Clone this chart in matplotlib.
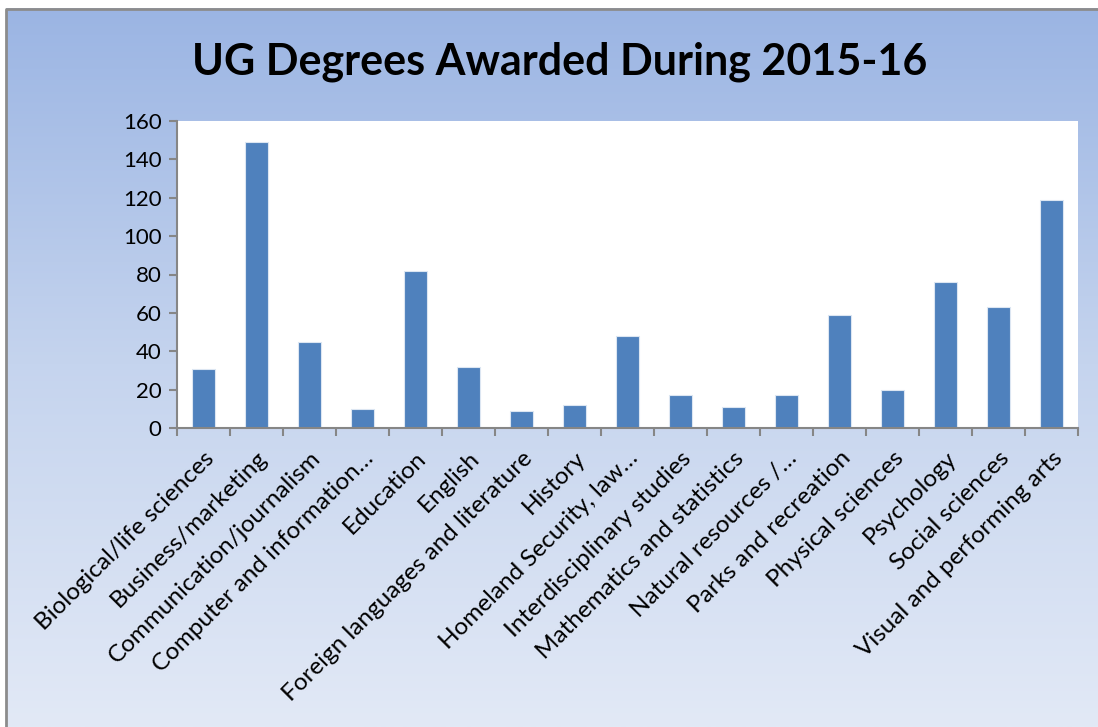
import numpy as np
import matplotlib.pyplot as plt
from matplotlib.colors import LinearSegmentedColormap
from matplotlib.patches import Rectangle

categories = ['Biological/life sciences', 'Business/marketing', 'Communication/journalism',
              'Computer and information…', 'Education', 'English',
              'Foreign languages and literature', 'History', 'Homeland Security, law…',
              'Interdisciplinary studies', 'Mathematics and statistics', 'Natural resources /…',
              'Parks and recreation', 'Physical sciences', 'Psychology', 'Social sciences',
              'Visual and performing arts']
degrees = [31, 149, 45, 10, 82, 32, 9, 12, 48, 17, 11, 17, 59, 20, 76, 63, 119]
y_ticks = [0, 20, 40, 60, 80, 100, 120, 140, 160]

plt.rcParams['font.family'] = ['Lato', 'DejaVu Sans']

fig = plt.figure(figsize=(10.98, 7.27), dpi=100, facecolor='white')

# gradient background behind everything
bg = fig.add_axes([0, 0, 1, 1], zorder=0)
cmap = LinearSegmentedColormap.from_list('bg', ['#9AB4E3', '#C5D4EE', '#E2E9F6'])
grad = np.linspace(0, 1, 256).reshape(-1, 1)
bg.imshow(grad, aspect='auto', cmap=cmap, extent=[0, 1, 0, 1], origin='upper')
bg.set_xlim(0, 1)
bg.set_ylim(0, 1)
bg.axis('off')
# white strip at top/left and gray frame
bg.add_patch(Rectangle((0, 1 - 7 / 727), 1, 7 / 727, color='white', zorder=2))
bg.add_patch(Rectangle((0, 0), 5 / 1098, 1, color='white', zorder=2))
bg.plot([6 / 1098, 6 / 1098, 1], [0, 1 - 8.5 / 727, 1 - 8.5 / 727], color='#8C8C8C', lw=2, zorder=3)

ax = fig.add_axes([177 / 1098, 1 - 428 / 727, (1078 - 177) / 1098, (428 - 121) / 727], zorder=1)
ax.set_facecolor('white')
x = np.arange(len(categories))
ax.bar(x, degrees, width=0.42, color='#4F81BD', edgecolor='#DCE6F2', linewidth=0.8, zorder=2)

ax.set_xlim(-0.5, len(categories) - 0.5)
ax.set_ylim(0, 160)
ax.set_yticks(y_ticks)
ax.tick_params(axis='y', labelsize=16, length=6, color='#868686', width=1.5, pad=5)

ax.set_xticks(x)
ax.set_xticklabels(categories, rotation=45, ha='right', rotation_mode='anchor', fontsize=17.5)
ax.tick_params(axis='x', length=0, pad=14)
ax.set_xticks(np.arange(-0.5, len(categories)), minor=True)
ax.tick_params(axis='x', which='minor', length=6, color='#868686', width=1.5)

for side in ['top', 'right']:
    ax.spines[side].set_visible(False)
for side in ['left', 'bottom']:
    ax.spines[side].set_color('#868686')
    ax.spines[side].set_linewidth(1.5)

fig.text(0.51, 1 - 62 / 727, 'UG Degrees Awarded During 2015-16', ha='center', va='center',
         fontsize=31, fontweight='bold', color='black')

plt.savefig('out.png', dpi=100, facecolor='white')
